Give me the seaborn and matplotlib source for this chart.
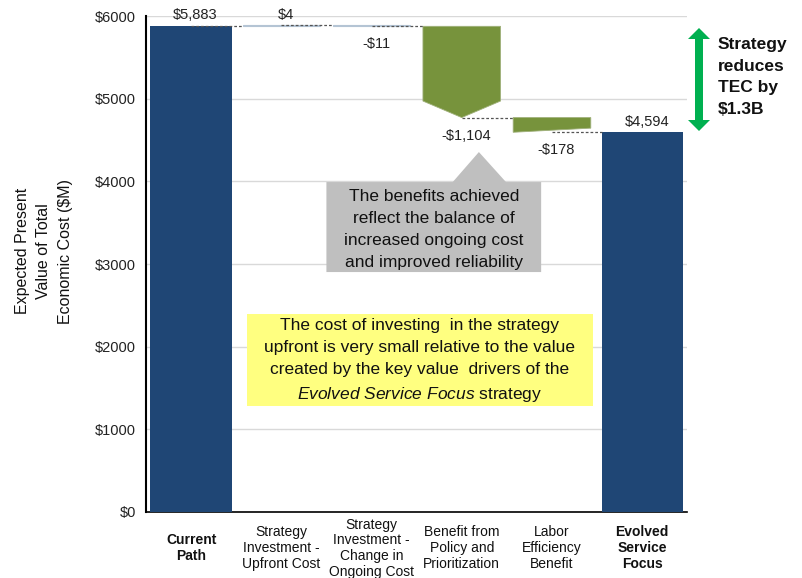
import matplotlib
matplotlib.use("Agg")
import numpy as np
import pandas as pd
import seaborn as sns
import matplotlib.pyplot as plt
from matplotlib.patches import Polygon

# ---------------- data ----------------
categories = ["Current\nPath", "Strategy\nInvestment -\nUpfront Cost",
              "Strategy\nInvestment -\nChange in\nOngoing Cost",
              "Benefit from\nPolicy and\nPrioritization",
              "Labor\nEfficiency\nBenefit", "Evolved\nService\nFocus"]
values = [5883, 4, -11, -1104, -178, 4594]
kinds = ["total", "delta", "delta", "delta", "delta", "total"]
value_labels = ["$5,883", "$4", "-$11", "-$1,104", "-$178", "$4,594"]
yticks = [0, 1000, 2000, 3000, 4000, 5000, 6000]
ytick_labels = ["$0", "$1000", "$2000", "$3000", "$4000", "$5000", "$6000"]
ylabel = "Expected Present\nValue of Total\nEconomic Cost ($M)"
gray_note = "The benefits achieved\nreflect the balance of\nincreased ongoing cost\nand improved reliability"
yellow_note = ("The cost of investing  in the strategy\nupfront is very small relative to the value\n"
               "created by the key value  drivers of the\n$\\mathit{Evolved\\ Service\\ Focus}$ strategy")
side_note = "Strategy\nreduces\nTEC by\n$1.3B"

# ---------------- style ----------------
sns.set_theme(style="white")
plt.rcParams["font.family"] = ["Liberation Sans", "DejaVu Sans"]
plt.rcParams["mathtext.fontset"] = "custom"
plt.rcParams["mathtext.rm"] = "Liberation Sans"
plt.rcParams["mathtext.it"] = "Liberation Sans:italic"

NAVY = "#1F4675"
GREEN = "#77933C"
PALE = "#C9D6E3"
shapes = ["bar", "bar", "bar", "chevron", "slant", "bar"]

# running levels
starts, ends = [], []
run = 0
for v, k in zip(values, kinds):
    if k == "total":
        starts.append(0); ends.append(v); run = v
    else:
        starts.append(run); ends.append(run + v); run = run + v

fig = plt.figure(figsize=(8.02, 5.78), dpi=100)
ax = fig.add_axes([0.182, 0.1142, 0.675, 0.858])

df = pd.DataFrame({"cat": categories,
                   "val": [v if k == "total" else 0 for v, k in zip(values, kinds)]})
sns.barplot(data=df, x="cat", y="val", order=categories, color=NAVY,
            saturation=1, width=0.9, linewidth=0, ax=ax, zorder=3)

dw = 0.86
for i, (k, s, e, sh) in enumerate(zip(kinds, starts, ends, shapes)):
    if k == "total":
        continue
    if sh == "bar":
        ax.bar(i, e - s, bottom=s, width=dw, color=PALE, edgecolor="#B4C4D4",
               linewidth=0.8, zorder=3)
    elif sh == "chevron":
        head = 200
        pts = [(i - dw / 2, s), (i + dw / 2, s), (i + dw / 2, e + head),
               (i, e), (i - dw / 2, e + head)]
        ax.add_patch(Polygon(pts, closed=True, facecolor=GREEN, edgecolor="#9FB07A",
                             linewidth=0.6, zorder=3))
    else:
        pts = [(i - dw / 2, s), (i + dw / 2, s), (i + dw / 2, e + 50), (i - dw / 2, e)]
        ax.add_patch(Polygon(pts, closed=True, facecolor=GREEN, edgecolor="#9FB07A",
                             linewidth=0.6, zorder=3))

# connectors
for i in range(len(values) - 1):
    lvl = ends[i]
    nxt_w = 0.9 if kinds[i + 1] == "total" else dw
    ax.plot([i, i + 1 - nxt_w / 2], [lvl, lvl], color="#555555", lw=0.9,
            dashes=(2.2, 1.6), zorder=4)

# value labels
for i, (lab, e, v) in enumerate(zip(value_labels, ends, values)):
    if v >= 0:
        ax.annotate(lab, (i + 0.05, e), xytext=(0, 2.5), textcoords="offset points",
                    ha="center", va="bottom", fontsize=10.5, color="#222222", zorder=6)
    else:
        ax.annotate(lab, (i + 0.05, e), xytext=(0, -8), textcoords="offset points",
                    ha="center", va="top", fontsize=10.5, color="#222222", zorder=6)

# axes styling
ax.set_xlim(-0.5, len(categories) - 0.5)
ax.set_ylim(0, 6000)
ax.set_yticks(yticks)
ax.set_yticklabels(ytick_labels)
ax.yaxis.grid(True, color="#D9D9D9", lw=1)
ax.set_axisbelow(True)
ax.tick_params(axis="y", length=0, pad=7, labelsize=10.5, labelcolor="#222222")
ax.tick_params(axis="x", length=0, pad=26, labelsize=10, labelcolor="#111111")
ax.set_xticks(range(len(categories)))
ax.set_xticklabels(categories, linespacing=1.15)
for j, t in enumerate(ax.get_xticklabels()):
    t.set_va("center")
    if kinds[j] == "total":
        t.set_fontweight("bold")
ax.set_xlabel("")
ax.set_ylabel("")
for sp in ["top", "right"]:
    ax.spines[sp].set_visible(False)
ax.spines["left"].set_color("black"); ax.spines["left"].set_linewidth(1.5)
ax.spines["bottom"].set_color("black"); ax.spines["bottom"].set_linewidth(1.2)
ax.spines["left"].set_zorder(5); ax.spines["bottom"].set_zorder(2)

fig.text(44 / 802, 1 - 251 / 578, ylabel, rotation=90, ha="center", va="center",
         multialignment="center", fontsize=11.5, linespacing=1.55, color="#111111")

# gray callout
gray_pts = [(1.5, 3992), (2.9, 3992), (3.19, 4355), (3.49, 3992), (3.88, 3992),
            (3.88, 2903), (1.5, 2903)]
ax.add_patch(Polygon(gray_pts, closed=True, facecolor="#BFBFBF", edgecolor="none", zorder=5))
ax.text(2.69, 3415, gray_note, ha="center", va="center", fontsize=12.5,
        linespacing=1.58, color="#111111", zorder=6)

# yellow note
ax.add_patch(Polygon([(0.62, 2395), (4.46, 2395), (4.46, 1282), (0.62, 1282)],
                     closed=True, facecolor="#FFFF80", edgecolor="none", zorder=5))
ax.text(2.53, 1827, yellow_note, ha="center", va="center", fontsize=12.5,
        linespacing=1.58, color="#111111", zorder=6)

# green double arrow (figure pixels)
W, H = 802, 578
def fpt(x, y):
    return (x / W, 1 - y / H)
cx, top, bot, sw, hw, hl = 699, 28, 131, 4, 11, 11
arrow = [(cx, top), (cx + hw, top + hl), (cx + sw, top + hl), (cx + sw, bot - hl),
         (cx + hw, bot - hl), (cx, bot), (cx - hw, bot - hl), (cx - sw, bot - hl),
         (cx - sw, top + hl), (cx - hw, top + hl)]
fig.patches.append(Polygon([fpt(*p) for p in arrow], closed=True, facecolor="#00B050",
                           edgecolor="none", transform=fig.transFigure, figure=fig))
fig.text(718 / W, 1 - 77 / H, side_note, ha="left", va="center", fontsize=12.5,
         fontweight="bold", linespacing=1.58, color="#111111")

fig.savefig("out.png", dpi=100)
